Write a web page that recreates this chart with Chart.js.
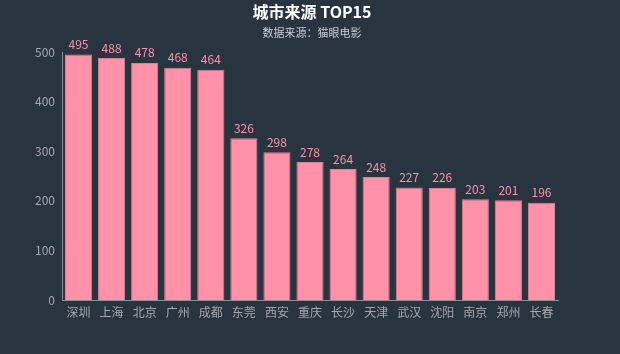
<!DOCTYPE html>
<html><head><meta charset="utf-8">
<script src="https://cdn.jsdelivr.net/npm/chart.js@4"></script>
<style>html,body{margin:0;padding:0;background:#293441;}#wrap{width:620px;height:354px;}</style>
</head><body><div id="wrap"><canvas id="c" width="620" height="354"></canvas></div>
<script>
const categories = ["深圳","上海","北京","广州","成都","东莞","西安","重庆","长沙","天津","武汉","沈阳","南京","郑州","长春"];
const values = [495,488,478,468,464,326,298,278,264,248,227,226,203,201,196];
const yTicks = [0,100,200,300,400,500];
const titleText = "城市来源 TOP15";
const subtitleText = "数据来源：猫眼电影";
const FONT = "'Noto Sans CJK SC','Microsoft YaHei',sans-serif";

const labelPlugin = {
  id: 'labels',
  afterDatasetsDraw(chart) {
    const ctx = chart.ctx;
    ctx.save();
    ctx.fillStyle = '#ff91a8';
    ctx.font = '12px ' + FONT;
    ctx.textAlign = 'center';
    ctx.textBaseline = 'bottom';
    chart.getDatasetMeta(0).data.forEach((bar, i) => {
      ctx.fillText(String(values[i]), bar.x, bar.y - 4);
    });
    ctx.fillStyle = '#ffffff';
    ctx.font = 'bold 16px ' + FONT;
    ctx.textBaseline = 'middle';
    ctx.fillText(titleText, 312, 12);
    ctx.fillStyle = '#c8ccd0';
    ctx.font = '11px ' + FONT;
    ctx.fillText(subtitleText, 312, 33);
    ctx.restore();
  }
};

new Chart(document.getElementById('c'), {
  type: 'bar',
  data: {
    labels: categories,
    datasets: [{
      data: values,
      backgroundColor: '#ff91a8',
      borderColor: '#e07f94',
      borderWidth: 1,
      barPercentage: 0.82,
      categoryPercentage: 1.0
    }]
  },
  options: {
    responsive: false,
    animation: false,
    layout: { padding: { top: 52, right: 62, left: 0, bottom: 0 } },
    plugins: { legend: { display: false }, title: { display: false }, tooltip: { enabled: false } },
    scales: {
      x: {
        grid: { display: false, drawTicks: false },
        border: { display: true, color: '#8a9099', width: 1 },
        ticks: { color: '#a4a8ae', font: { size: 12, family: FONT }, padding: 5, maxRotation: 0 },
        afterFit(s) { s.height = 54; }
      },
      y: {
        min: 0, max: 500,
        grid: { display: false, drawTicks: false },
        border: { display: true, color: '#8a9099', width: 1 },
        afterBuildTicks(s) { s.ticks = yTicks.map(v => ({ value: v })); },
        ticks: { color: '#a4a8ae', font: { size: 12, family: FONT }, padding: 7 },
        afterFit(s) { s.width = 62; }
      }
    }
  },
  plugins: [labelPlugin]
});
</script></body></html>
